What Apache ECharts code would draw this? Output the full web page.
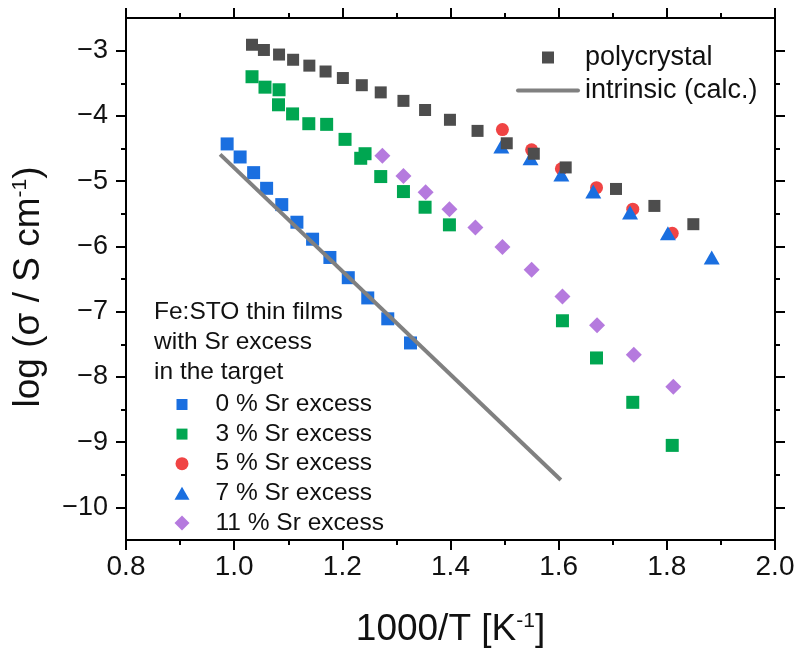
<!DOCTYPE html>
<html>
<head>
<meta charset="utf-8">
<script src="https://cdn.jsdelivr.net/npm/echarts@6/dist/echarts.min.js"></script>
<style>
  html, body { margin: 0; padding: 0; background: #fff; }
  #chart { width: 798px; height: 654px; }
</style>
</head>
<body>
<div id="chart"></div>
<script>
// x = 1000/T [1/K], y = log(sigma / S cm^-1)
const polyX = [1.033, 1.055, 1.083, 1.109, 1.139, 1.169, 1.201, 1.236, 1.271, 1.313, 1.353, 1.399, 1.450, 1.504, 1.554, 1.613, 1.706, 1.777, 1.849]
const polyY = [-2.91, -2.99, -3.06, -3.14, -3.23, -3.32, -3.42, -3.53, -3.64, -3.77, -3.91, -4.06, -4.23, -4.42, -4.58, -4.79, -5.12, -5.38, -5.66]

const intrinsicX = [0.974, 1.604]
const intrinsicY = [-4.59, -9.58]

const sr0X = [0.987, 1.011, 1.036, 1.060, 1.088, 1.116, 1.145, 1.177, 1.211, 1.247, 1.284, 1.326]
const sr0Y = [-4.43, -4.63, -4.87, -5.11, -5.36, -5.63, -5.89, -6.17, -6.48, -6.79, -7.11, -7.48]

const sr3X = [1.033, 1.057, 1.083, 1.082, 1.108, 1.138, 1.171, 1.205, 1.234, 1.242, 1.271, 1.313, 1.353, 1.398, 1.607, 1.670, 1.737, 1.810]
const sr3Y = [-3.40, -3.56, -3.60, -3.83, -3.97, -4.12, -4.13, -4.36, -4.65, -4.58, -4.93, -5.16, -5.40, -5.67, -7.14, -7.71, -8.39, -9.05]

const sr5X = [1.496, 1.550, 1.605, 1.670, 1.737, 1.810]
const sr5Y = [-4.21, -4.52, -4.81, -5.10, -5.43, -5.80]

const sr7X = [1.494, 1.548, 1.605, 1.664, 1.732, 1.802, 1.883]
const sr7Y = [-4.47, -4.65, -4.90, -5.16, -5.48, -5.80, -6.17]

const sr11X = [1.274, 1.313, 1.354, 1.398, 1.446, 1.496, 1.550, 1.607, 1.671, 1.739, 1.812]
const sr11Y = [-4.61, -4.92, -5.17, -5.43, -5.71, -6.01, -6.36, -6.77, -7.21, -7.66, -8.15]

const yMajor = [-10, -9, -8, -7, -6, -5, -4, -3]
const yMinor = [-9.5, -8.5, -7.5, -6.5, -5.5, -4.5, -3.5]

const zip = (xs, ys) => xs.map((x, i) => [x, ys[i]])

const FONT = 'Liberation Sans, Arial, sans-serif'
const INK = '#111'

// legend icons drawn inside a 16x16 frame so that keepAspect keeps their size
const ICON_SQUARE = 'path://M0,0M16,16M2.5,2.5h11v11h-11z'
const ICON_CIRCLE = 'path://M0,0M16,16M14.5,8a6.5,6.5 0 1 1 -13,0a6.5,6.5 0 1 1 13,0z'
const ICON_TRIANGLE = 'path://M0,0M16,16M8,1.5L15.5,14.5H0.5z'
const ICON_DIAMOND = 'path://M0,0M16,16M8,0.5L15.5,8L8,15.5L0.5,8z'
const ICON_BAR = 'path://M2,0h60a2,2 0 0 1 0,4h-60a2,2 0 0 1 0,-4z'

const chart = echarts.init(document.getElementById('chart'), null, { renderer: 'canvas' })

const axisLine = { show: true, onZero: false, lineStyle: { color: '#000', width: 2 } }
const tickStyle = { color: '#000', width: 2 }

const yBase = {
  type: 'value', min: -10.5, max: -2.5,
  splitLine: { show: false },
  axisLine: axisLine
}

const supStyle = { fontSize: 21, verticalAlign: 'top', color: INK, fontFamily: FONT }

const option = {
  animation: false,
  backgroundColor: '#fff',
  textStyle: { fontFamily: FONT },
  grid: { left: 126, right: 23, top: 18, bottom: 114, containLabel: false },
  title: {
    text: 'Fe:STO thin films\nwith Sr excess\nin the target',
    left: 154,
    top: 297,
    padding: 0,
    textStyle: { fontSize: 24.5, fontWeight: 'normal', lineHeight: 30, color: INK, fontFamily: FONT }
  },
  legend: [
    {
      data: [
        { name: 'polycrystal', icon: 'path://M0,0h1v1h-1z' },
        { name: 'intrinsic (calc.)', icon: ICON_BAR }
      ],
      orient: 'vertical',
      left: 516, top: 44,
      padding: 0,
      itemWidth: 64, itemHeight: 12, itemGap: 6,
      symbolKeepAspect: true,
      selectedMode: false,
      textStyle: { fontSize: 27, lineHeight: 27, color: INK, fontFamily: FONT }
    },
    {
      data: [
        { name: '0 % Sr excess', icon: ICON_SQUARE },
        { name: '3 % Sr excess', icon: ICON_SQUARE },
        { name: '5 % Sr excess', icon: ICON_CIRCLE },
        { name: '7 % Sr excess', icon: ICON_TRIANGLE },
        { name: '11 % Sr excess', icon: ICON_DIAMOND }
      ],
      orient: 'vertical',
      // the box is laid out from the icons' left edge, not from the item frame
      left: 174, top: 392,
      padding: 0,
      itemWidth: 57, itemHeight: 16, itemGap: 4.6,
      symbolKeepAspect: true,
      selectedMode: false,
      textStyle: { fontSize: 24.5, lineHeight: 24.5, color: INK, fontFamily: FONT }
    }
  ],
  xAxis: [
    {
      type: 'value', position: 'bottom', min: 0.8, max: 2.0, interval: 0.2,
      axisLine: axisLine,
      axisTick: { show: true, inside: false, length: 10, lineStyle: tickStyle },
      minorTick: { show: true, splitNumber: 2, length: 5, lineStyle: tickStyle },
      splitLine: { show: false },
      axisLabel: { formatter: v => v.toFixed(1), fontSize: 28, margin: 13, color: INK, fontFamily: FONT },
      name: '1000/T [K{sup|-1}]',
      nameLocation: 'middle',
      nameGap: 71,
      nameTextStyle: { fontSize: 37, color: INK, fontFamily: FONT, rich: { sup: supStyle } }
    },
    {
      type: 'value', position: 'top', min: 0.8, max: 2.0, interval: 0.2,
      axisLine: axisLine,
      axisTick: { show: true, inside: false, length: 10, lineStyle: tickStyle },
      minorTick: { show: true, splitNumber: 2, length: 5, lineStyle: tickStyle },
      splitLine: { show: false },
      axisLabel: { show: false }
    }
  ],
  yAxis: [
    Object.assign({}, yBase, {
      position: 'left',
      axisTick: { show: true, inside: false, length: 10, lineStyle: tickStyle, customValues: yMajor },
      axisLabel: {
        customValues: yMajor,
        formatter: v => String(v).replace('-', '\u2212'),
        fontSize: 27, margin: 18, color: INK, fontFamily: FONT
      },
      name: 'log (σ / S cm{sup|-1})',
      nameLocation: 'middle',
      nameGap: 79,
      nameTextStyle: {
        fontSize: 37, color: INK, fontFamily: FONT, padding: [0, 16, 0, 0],
        rich: { sup: supStyle }
      }
    }),
    Object.assign({}, yBase, {
      position: 'left',
      axisTick: { show: true, inside: false, length: 5, lineStyle: tickStyle, customValues: yMinor },
      axisLabel: { show: false }
    }),
    Object.assign({}, yBase, {
      position: 'right',
      axisTick: { show: true, inside: false, length: 10, lineStyle: tickStyle, customValues: yMajor },
      axisLabel: { show: false }
    }),
    Object.assign({}, yBase, {
      position: 'right',
      axisTick: { show: true, inside: false, length: 5, lineStyle: tickStyle, customValues: yMinor },
      axisLabel: { show: false }
    })
  ],
  series: [
    {
      name: 'intrinsic (calc.)', type: 'line', data: zip(intrinsicX, intrinsicY),
      symbol: 'none', lineStyle: { color: '#808080', width: 4 }, itemStyle: { color: '#808080' }
    },
    {
      name: '0 % Sr excess', type: 'scatter', data: zip(sr0X, sr0Y),
      symbol: 'rect', symbolSize: 13, itemStyle: { color: '#1a6fe0', opacity: 1 }
    },
    {
      name: '3 % Sr excess', type: 'scatter', data: zip(sr3X, sr3Y),
      symbol: 'rect', symbolSize: 13, itemStyle: { color: '#00a651', opacity: 1 }
    },
    {
      name: '11 % Sr excess', type: 'scatter', data: zip(sr11X, sr11Y),
      symbol: 'diamond', symbolSize: 16, itemStyle: { color: '#b57ade', opacity: 1 }
    },
    {
      name: '5 % Sr excess', type: 'scatter', data: zip(sr5X, sr5Y),
      symbol: 'circle', symbolSize: 13, itemStyle: { color: '#f04444', opacity: 1 }
    },
    {
      name: '7 % Sr excess', type: 'scatter', data: zip(sr7X, sr7Y),
      symbol: 'triangle', symbolSize: [16, 14], itemStyle: { color: '#1a6fe0', opacity: 1 }
    },
    {
      name: 'polycrystal', type: 'scatter', data: zip(polyX, polyY),
      symbol: 'rect', symbolSize: 12, itemStyle: { color: '#4d4d4d', opacity: 1 }
    }
  ]
}

chart.setOption(option)
window.addEventListener('resize', chart.resize)
</script>
</body>
</html>
